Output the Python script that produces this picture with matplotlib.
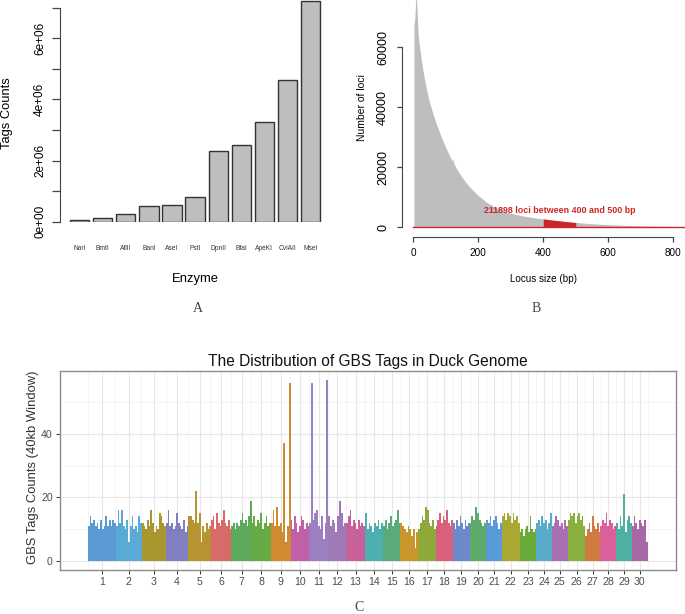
import numpy as np
import matplotlib
matplotlib.use("Agg")
import matplotlib.pyplot as plt

plt.rcParams['font.family'] = ['Liberation Sans', 'DejaVu Sans']

# ---------------- data ----------------
# Panel A
enzymes = ['NarI', 'BmtI', 'AflII', 'BanI', 'AseI', 'PstI', 'DpnII', 'BfaI', 'ApeKI', 'CviAII', 'MseI']
tag_counts = [0.04e6, 0.13e6, 0.24e6, 0.52e6, 0.55e6, 0.81e6, 2.32e6, 2.50e6, 3.27e6, 4.62e6, 7.21e6]
a_yticks = [0, 1e6, 2e6, 3e6, 4e6, 5e6, 6e6, 7e6]
a_yticklabels = ['0e+00', '', '2e+06', '', '4e+06', '', '6e+06', '']

# Panel B (locus size distribution, read at sample sizes)
locus_bp = [2, 5, 8, 11, 14, 17, 20, 25, 30, 35, 40, 45, 50, 60, 70, 80, 90, 100, 110, 120,
            122, 124, 130, 140, 150, 160, 170, 180, 190, 200, 225, 250, 275, 300, 325, 350,
            375, 400, 425, 450, 475, 500, 550, 600, 650, 700, 750, 800, 830]
locus_counts = [67000, 70000, 78000, 74000, 66000, 62000, 59500, 55500, 52000, 49000, 46300,
                43800, 41500, 37900, 34600, 31700, 29000, 26500, 24100, 21900, 23000, 21500,
                20000, 18200, 16600, 15100, 13800, 12600, 11500, 10500, 8300, 6700, 5500,
                4600, 3950, 3450, 3050, 2700, 2350, 2050, 1750, 1500, 1080, 780, 550, 390,
                270, 180, 120]
b_highlight = (400, 500)
b_note = '211898 loci between 400 and 500 bp'
b_xticks = [0, 200, 400, 600, 800]
b_yticks = [0, 20000, 40000, 60000]

# Panel C
chrom_labels = [str(i) for i in range(1, 31)]
chrom_span = [28, 26, 24, 22.6, 22.7, 20.3, 20.4, 19, 20, 18.6, 19, 18, 18.7, 18.3, 17.4,
              17.6, 17.7, 17.3, 16.7, 16.3, 16, 17.7, 16.7, 15.6, 16, 17.4, 15.3, 15.7, 15.6, 16]
chrom_counts = [
    [11, 14, 12, 13, 11, 12, 10, 13, 10, 11, 14, 11, 13, 11, 13, 12],
    [11, 16, 12, 16, 11, 10, 13, 6, 11, 14, 10, 11, 9, 14, 12],
    [12, 11, 10, 13, 11, 16, 12, 9, 11, 10, 15, 14, 12, 11],
    [12, 16, 11, 12, 10, 11, 15, 12, 11, 10, 13, 9, 11],
    [14, 14, 13, 12, 22, 12, 15, 6, 11, 9, 12, 10, 11],
    [13, 14, 10, 15, 12, 11, 13, 16, 12, 11, 13, 10],
    [11, 12, 10, 12, 11, 13, 15, 12, 13, 11, 14, 19],
    [12, 14, 11, 13, 12, 15, 10, 12, 14, 11, 12],
    [12, 16, 11, 17, 11, 12, 9, 37, 6, 11, 56],
    [13, 10, 14, 12, 9, 11, 14, 13, 10, 12, 11],
    [12, 56, 13, 15, 16, 11, 10, 14, 7, 12, 57],
    [14, 11, 13, 12, 9, 14, 19, 15, 11, 12],
    [12, 14, 16, 11, 13, 12, 10, 13, 11, 12, 11],
    [15, 10, 12, 11, 9, 12, 11, 13, 10, 12],
    [11, 13, 10, 12, 14, 11, 12, 13, 16, 12],
    [12, 11, 10, 9, 11, 10, 8, 10, 4, 9],
    [10, 12, 14, 13, 17, 16, 12, 11, 13, 10],
    [11, 13, 15, 12, 14, 13, 16, 12, 11, 13],
    [12, 10, 13, 11, 14, 12, 10, 13, 11, 12],
    [12, 14, 13, 17, 15, 13, 12, 11, 12],
    [13, 12, 14, 11, 13, 14, 12, 10, 12],
    [14, 15, 13, 15, 14, 12, 15, 13, 14, 12],
    [9, 10, 8, 10, 11, 9, 14, 10, 9, 10],
    [12, 13, 11, 14, 12, 13, 10, 12, 15],
    [11, 12, 14, 13, 11, 12, 10, 13, 11],
    [13, 15, 14, 15, 12, 14, 15, 13, 14, 11],
    [8, 10, 12, 9, 14, 11, 10, 12, 9],
    [11, 13, 12, 15, 11, 13, 12, 10, 11],
    [12, 10, 14, 11, 21, 9, 13, 14, 12],
    [11, 14, 12, 10, 13, 12, 11, 13, 6],
]
chrom_colors = ['#5B9BD5', '#5AAAD8', '#A8962E', '#8080C0', '#B89430', '#D96A6A', '#5DAA5D',
                '#66AA44', '#D08A30', '#C060A8', '#9A80C0', '#A07AB8', '#C8609A', '#4DB0B0',
                '#5AAA7A', '#C8962A', '#8EA83A', '#D9607A', '#6E88CC', '#5DAA6A', '#5A9AD8',
                '#A8A832', '#6AAA3A', '#5AAACC', '#A870B0', '#8AB040', '#D07A40', '#D9609A',
                '#4DB0A0', '#A868A8']
c_yticks = [0, 20, 40]

# ---------------- layout helpers ----------------
W, H = 685, 614
fig = plt.figure(figsize=(W / 100, H / 100), dpi=100)


def rect(x0, y0, x1, y1):
    return [x0 / W, 1 - y1 / H, (x1 - x0) / W, (y1 - y0) / H]


def fx(x):
    return x / W


def fy(y):
    return 1 - y / H


axis_col = '#444444'

# ---------------- Panel A ----------------
axA = fig.add_axes(rect(66.2, 0.2, 323.9, 221.7))
xa = 0.7 + 1.2 * np.arange(len(enzymes))
axA.bar(xa, tag_counts, width=1.0, color='#BEBEBE', edgecolor='#333333', linewidth=1.0)
axA.set_xlim(0, 13.4)
axA.set_ylim(0, 7.24e6)
for s in ['top', 'right', 'bottom']:
    axA.spines[s].set_visible(False)
axA.spines['left'].set_position(('outward', 4.5))
axA.spines['left'].set_bounds(0, 7e6)
axA.spines['left'].set_color(axis_col)
axA.set_yticks(a_yticks)
axA.set_yticklabels(a_yticklabels)
axA.tick_params(axis='y', length=5.5, width=0.9, color=axis_col, labelsize=8.5, pad=4.5)
for lab in axA.get_yticklabels():
    lab.set_rotation(90)
    lab.set_va('center')
axA.set_xticks(xa)
axA.set_xticklabels(enzymes)
axA.tick_params(axis='x', length=0, labelsize=4.8, pad=17, labelcolor='#333333')
axA.patch.set_alpha(0)
fig.text(fx(195), fy(279), 'Enzyme', ha='center', va='center', fontsize=9.4)
fig.text(fx(7), fy(113), 'Tags Counts', ha='center', va='center', fontsize=9.3, rotation=90)
fig.text(fx(198), fy(309), 'A', ha='center', va='center', fontsize=10,
         family=['Liberation Serif'], color='#444444')

# ---------------- Panel B ----------------
axB = fig.add_axes(rect(401.7, 0, 685, 236.7))
bp = np.array(locus_bp, dtype=float)
cnt = np.array(locus_counts, dtype=float)
axB.fill_between(bp, 0, cnt, color='#BEBEBE', linewidth=0)
sel = (bp >= b_highlight[0]) & (bp <= b_highlight[1])
axB.fill_between(bp[sel], 0, cnt[sel], color='#CD2626', linewidth=0)
axB.plot([0, 836], [0, 0], color='#CD2626', linewidth=1.0)
axB.text(451, 5400, b_note, ha='center', va='center', fontsize=6.4, fontweight='bold',
         color='#CD2626')
axB.set_xlim(-35.7, 836)
axB.set_ylim(-3233, 75667)
for s in ['top', 'right']:
    axB.spines[s].set_visible(False)
axB.spines['left'].set_bounds(0, 60000)
axB.spines['bottom'].set_bounds(0, 800)
axB.spines['left'].set_color(axis_col)
axB.spines['bottom'].set_color(axis_col)
axB.set_xticks(b_xticks)
axB.set_yticks(b_yticks)
axB.tick_params(axis='x', length=3.6, width=0.9, color=axis_col, labelsize=7.2, pad=4.5)
axB.tick_params(axis='y', length=3.6, width=0.9, color=axis_col, labelsize=9.0, pad=5.5)
for lab in axB.get_yticklabels():
    lab.set_rotation(90)
    lab.set_va('center')
axB.patch.set_alpha(0)
fig.text(fx(543), fy(279.3), 'Locus size (bp)', ha='center', va='center', fontsize=7.1)
fig.text(fx(361.7), fy(108), 'Number of loci', ha='center', va='center', fontsize=7.5,
         rotation=90)
fig.text(fx(536), fy(308.3), 'B', ha='center', va='center', fontsize=10,
         family=['Liberation Serif'], color='#444444')

# ---------------- Panel C ----------------
axC = fig.add_axes(rect(60, 370.7, 675.7, 570))
span = np.array(chrom_span, dtype=float)
starts = np.concatenate([[0], np.cumsum(span)[:-1]])
centers = starts + span / 2
total = span.sum()
for s0, w, h, c in zip(starts, span, chrom_counts, chrom_colors):
    e = s0 + w * np.arange(len(h) + 1) / len(h)
    axC.stairs(h, e, fill=True, color=c, linewidth=0, zorder=2)
axC.set_xlim(-0.05 * total, 1.05 * total)
axC.set_ylim(-2.85, 59.85)
axC.set_xticks(centers)
axC.set_xticklabels(chrom_labels)
mids = (centers[:-1] + centers[1:]) / 2
minor_x = np.concatenate([[centers[0] - (centers[1] - centers[0]) / 2], mids,
                          [centers[-1] + (centers[-1] - centers[-2]) / 2]])
axC.set_xticks(minor_x, minor=True)
axC.set_yticks(c_yticks)
axC.set_yticks([10, 30, 50], minor=True)
axC.grid(which='major', color='#E6E6E6', linewidth=0.8, zorder=0)
axC.grid(which='minor', color='#F0F0F0', linewidth=0.5, zorder=0)
axC.set_axisbelow(True)
axC.tick_params(which='minor', length=0)
axC.tick_params(which='major', length=2.8, width=0.7, color='#333333', labelsize=7.6,
                labelcolor='#4D4D4D', pad=2.5)
for s in axC.spines.values():
    s.set_color('#8C8C8C')
    s.set_linewidth(1.0)
fig.text(fx(367.9), fy(361.7), 'The Distribution of GBS Tags in Duck Genome', ha='center',
         va='center', fontsize=11.2, color='#111111')
fig.text(fx(33.3), fy(467.5), 'GBS Tags Counts (40kb Window)', ha='center', va='center',
         fontsize=9.4, rotation=90, color='#333333')
fig.text(fx(359.3), fy(607.3), 'C', ha='center', va='center', fontsize=10,
         family=['Liberation Serif'], color='#444444')

fig.savefig('out.png', dpi=100, facecolor='white')
